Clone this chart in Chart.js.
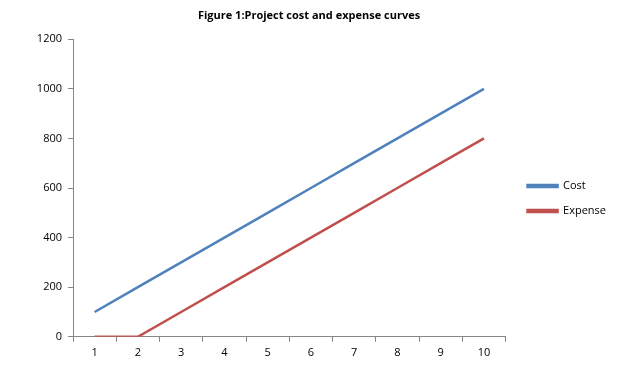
<!DOCTYPE html>
<html>
<head>
<meta charset="utf-8">
<script src="https://cdn.jsdelivr.net/npm/chart.js@4.4.0/dist/chart.umd.min.js"></script>
<style>
  html, body { margin: 0; padding: 0; background: #fff; }
  #wrap { width: 618px; height: 367px; }
</style>
</head>
<body>
<div id="wrap"><canvas id="chart"></canvas></div>
<script>
"use strict";

const periods = ["1", "2", "3", "4", "5", "6", "7", "8", "9", "10"];
const costValues = [100, 200, 300, 400, 500, 600, 700, 800, 900, 1000];
const expenseValues = [0, 0, 100, 200, 300, 400, 500, 600, 700, 800];
const yTicks = [0, 200, 400, 600, 800, 1000, 1200];

const axisColor = "#868686";
const fontFamily = "'Open Sans', 'Liberation Sans', sans-serif";

const ctx = document.getElementById("chart");

// nudge the legend a bit to the right, like the original
const legendShift = {
  id: "legendShift",
  afterUpdate: (chart) => {
    chart.legend.left += 8;
    chart.legend.right += 8;
  },
};

const chartRef = new Chart(ctx, {
  type: "line",
  data: {
    labels: periods,
    datasets: [
      {
        label: "Cost",
        data: costValues,
        borderColor: "#4F81BD",
        backgroundColor: "#4F81BD",
        borderWidth: 2.5,
        pointRadius: 0,
        tension: 0,
      },
      {
        label: "Expense",
        data: expenseValues,
        borderColor: "#C0504D",
        backgroundColor: "#C0504D",
        borderWidth: 2.5,
        pointRadius: 0,
        tension: 0,
      },
    ],
  },
  options: {
    responsive: true,
    maintainAspectRatio: false,
    animation: false,
    layout: {
      padding: { left: 10, right: 10, top: 9, bottom: 4 },
    },
    plugins: {
      title: {
        display: true,
        text: "Figure 1:Project cost and expense curves",
        color: "#000",
        font: { family: fontFamily, size: 11, weight: "bold" },
        padding: { top: 0, bottom: 17 },
      },
      legend: {
        position: "right",
        align: "center",
        title: {
          display: true,
          text: " ",
          padding: { top: 0, bottom: 12 },
          font: { family: fontFamily, size: 11 },
        },
        labels: {
          boxWidth: 30,
          boxHeight: 2,
          color: "#000",
          padding: 14,
          font: { family: fontFamily, size: 11 },
        },
      },
      tooltip: { enabled: false },
    },
    scales: {
      x: {
        offset: true,
        grid: {
          display: true,
          drawOnChartArea: false,
          drawTicks: true,
          tickLength: 5,
          color: axisColor,
          offset: true,
        },
        border: { color: axisColor },
        ticks: {
          color: "#000",
          padding: 4,
          maxRotation: 0,
          font: { family: fontFamily, size: 11 },
        },
      },
      y: {
        min: 0,
        max: 1200,
        afterBuildTicks: (scale) => {
          scale.ticks = yTicks.map((v) => ({ value: v }));
        },
        grid: {
          display: true,
          drawOnChartArea: false,
          drawTicks: true,
          tickLength: 5,
          color: axisColor,
        },
        border: { color: axisColor },
        ticks: {
          color: "#000",
          padding: 6,
          font: { family: fontFamily, size: 11 },
          callback: (value) => String(value),
        },
        afterFit: (scale) => {
          scale.width = 63;
        },
      },
    },
  },
  plugins: [legendShift],
});
</script>
</body>
</html>
